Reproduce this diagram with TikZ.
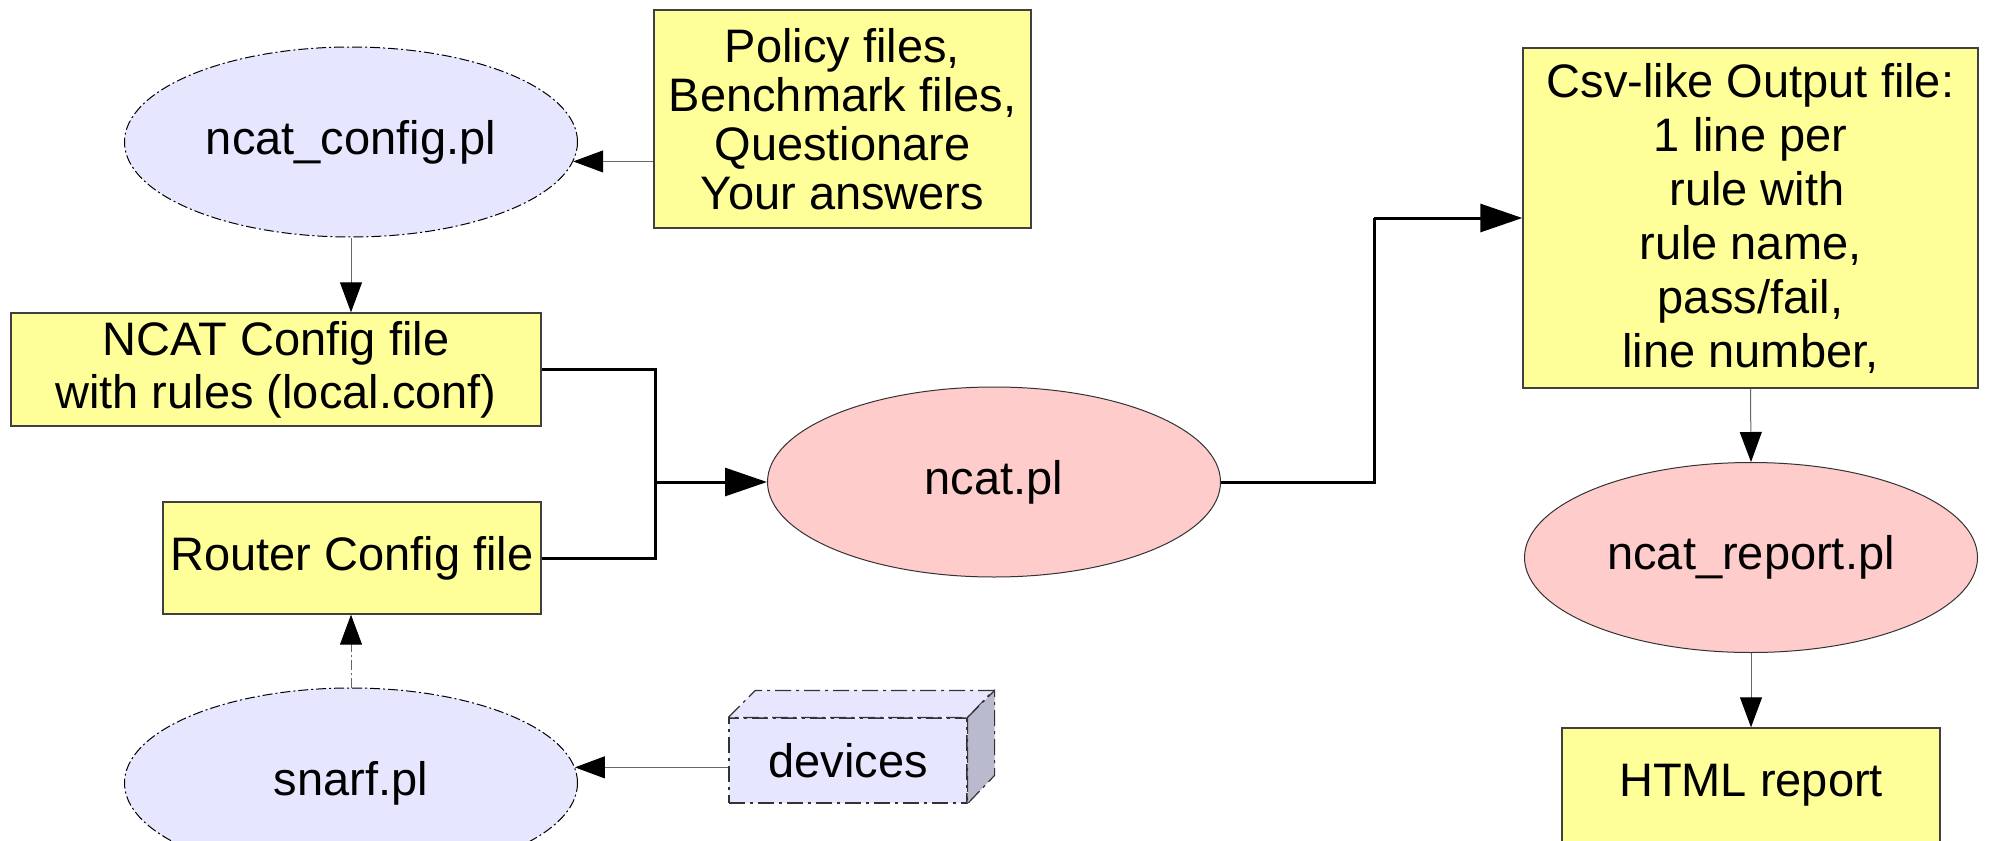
\documentclass[tikz,border=0pt]{standalone}
\usepackage{fontspec}
\setmainfont{Liberation Sans}
\usetikzlibrary{shapes.geometric,arrows.meta}

\definecolor{fileyellow}{RGB}{255,255,153}
\definecolor{toolblue}{RGB}{230,230,255}
\definecolor{scriptpink}{RGB}{255,204,204}
\definecolor{sideblue}{RGB}{186,186,206}

\tikzset{
  txt/.style={font=\fontsize{23.5pt}{26.5pt}\selectfont, align=center, inner sep=0pt},
  filebox/.style={txt, rectangle, draw=black!75, line width=0.7pt, fill=fileyellow},
  dashdot/.style={dash pattern=on 5pt off 1.5pt on 1pt off 1.5pt},
  longdashdot/.style={dash pattern=on 8pt off 2.5pt on 1.5pt off 2.5pt},
  oval/.style={txt, ellipse, minimum width=226.5pt, minimum height=95pt, line width=0.5pt},
  helper/.style={oval, fill=toolblue, draw=black, dashdot},
  script/.style={oval, fill=scriptpink, draw=black!80},
  devface/.style={txt, rectangle, minimum width=119pt, minimum height=42.5pt,
                  fill=toolblue, draw=black!80, line width=0.6pt, longdashdot},
  thinflow/.style={draw=black!60, line width=0.5pt,
                   -{Triangle[length=15pt,width=11pt,color=black]}},
  thickflow/.style={draw=black, line width=1.5pt,
                    -{Triangle[length=21pt,width=14pt,color=black]}},
  thickline/.style={draw=black, line width=1.5pt},
}

\begin{document}
\begin{tikzpicture}[x=0.5pt,y=-0.5pt]
  \clip (0,0) rectangle (1995,840);
  \fill[white] (0,0) rectangle (1995,840);

  % configuration side
  \node[helper] (cfg) at (351,142) {ncat\_config.pl};
  \node[filebox, minimum width=188.5pt, minimum height=109pt,
        font=\fontsize{23.5pt}{24.5pt}\selectfont] (policy) at (842.5,119)
    {Policy files,\\Benchmark files,\\Questionare\\Your answers};
  \node[filebox, minimum width=265pt, minimum height=56.5pt] (ncatcfg) at (276,369.5)
    {NCAT Config file\\with rules (local.conf)};
  \node[filebox, minimum width=189pt, minimum height=56pt] (router) at (352,558)
    {Router Config file};
  \node[helper] (snarf) at (351,783) {snarf.pl};

  % devices drawn as a box
  \node[devface] (dev) at (848,760.5) {devices};
  \filldraw[fill=toolblue, draw=black!80, line width=0.6pt, longdashdot]
    (dev.north west) -- ++(27,-27) -- ++(238,0) -- (dev.north east) -- cycle;
  \filldraw[fill=sideblue, draw=black!80, line width=0.6pt, longdashdot]
    (dev.north east) -- ++(27,-27) -- ++(0,85) -- (dev.south east) -- cycle;

  % checking and reporting
  \node[script] (ncat) at (994,482) {ncat.pl};
  \node[filebox, minimum width=227.5pt, minimum height=170pt,
        font=\fontsize{23.5pt}{27pt}\selectfont] (csv) at (1750.5,218)
    {Csv-like Output file:\\1 line per\\\ rule with\\rule name,\\pass/fail,\\line number,};
  \node[script] (report) at (1751,557.5) {ncat\_report.pl};
  \node[filebox, minimum width=189pt, minimum height=57pt] (html) at (1751,785)
    {HTML report};

  % junction points of the heavy connectors
  \coordinate (jin) at (655,482);
  \coordinate (jout) at (1374,218);

  % connectors
  \draw[thinflow] (policy.west |- cfg.-5) -- (cfg.-5);
  \draw[thinflow] (cfg.south) -- (cfg.south |- ncatcfg.north);
  \draw[thickline] (ncatcfg.east) -| (jin);
  \draw[thickline] (router.east) -| (jin);
  \draw[thickflow] (jin) -- (ncat.west);
  \draw[thinflow, dashdot] (snarf.north) -- (snarf.north |- router.south);
  \draw[thinflow] (dev.west |- snarf.4) -- (snarf.4);
  \draw[thickline] (ncat.east) -| (jout);
  \draw[thickflow] (jout) -- (csv.west);
  \draw[thinflow] (csv.south) -- (report.north);
  \draw[thinflow] (report.south) -- (html.north);
\end{tikzpicture}
\end{document}
